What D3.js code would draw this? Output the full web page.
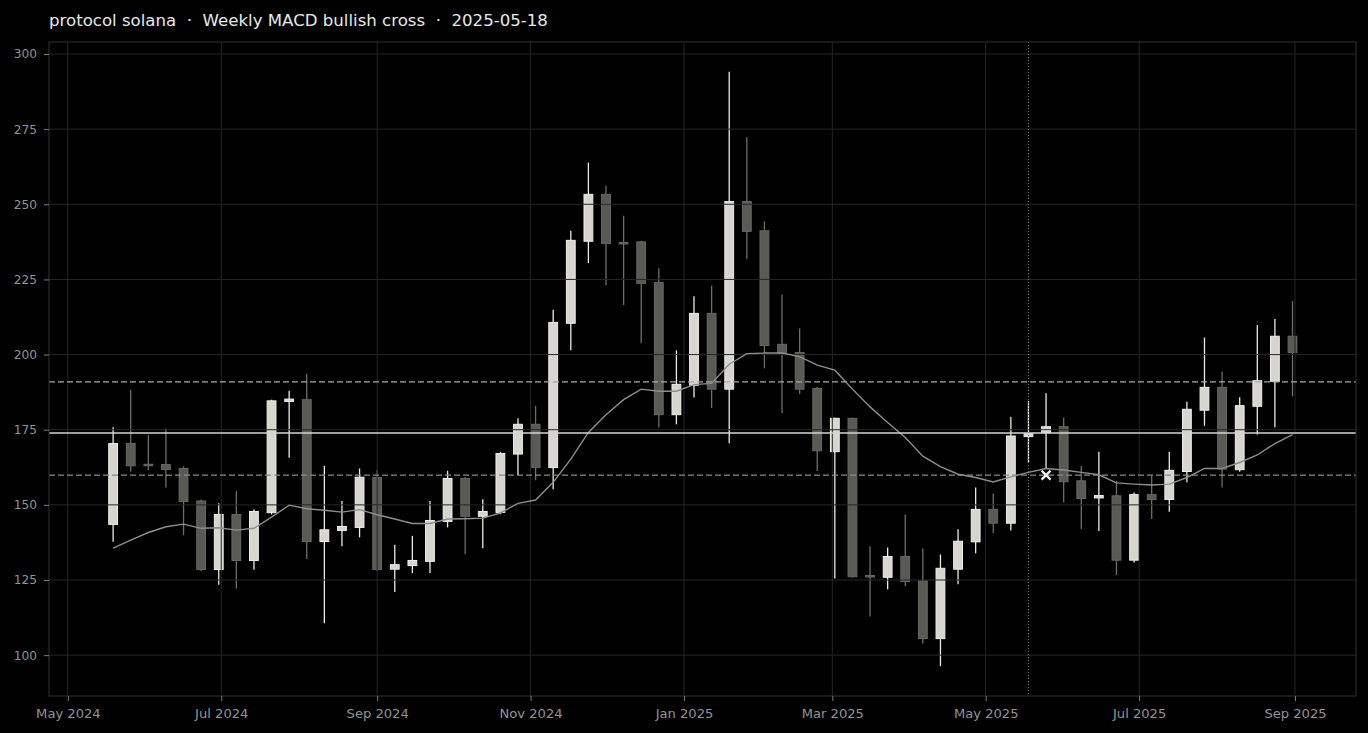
<!DOCTYPE html>
<html lang="en">
<head>
<meta charset="utf-8" />
<style>
    body { margin: 0; background: #000; }
    svg { display: block; font-family: "DejaVu Sans", sans-serif; }
    .tick text { fill: #939393; font-family: "DejaVu Sans", sans-serif; }
    .x-axis .tick text { font-size: 13.1px; }
    .y-axis .tick text { font-size: 12.2px; }
    .tick line { stroke: #7c7c7c; }
    .domain { display: none; }
    .grid line { stroke: #262626; stroke-width: 1px; }
    .title { fill: #e8e8e8; font-size: 16.6px; white-space: pre; }
</style>
</head>
<body>
<svg width="1368" height="733"></svg>
<script src="https://cdn.jsdelivr.net/npm/d3@7"></script>
<script>

    var startWeek = "2024-05-19",
        signalDate = "2025-05-18",
        markerDate = "2025-05-25",
        markerValue = 159.9;

    var open = [143.5, 170.4, 163.5, 163.4, 162.1, 151.3, 128.5, 146.8, 131.5, 147.4,
        184.4, 185, 137.8, 141.5, 142.5, 159.1, 128.6, 129.8, 131.2, 144.5,
        158.8, 146.2, 147.5, 166.9, 176.8, 162.4, 210.4, 237.7, 253.3, 237.3,
        237.5, 224, 180, 189.8, 213.7, 188.5, 250.9, 241.2, 203.4, 200.7,
        188.7, 167.7, 178.8, 126.5, 125.9, 132.8, 124.7, 105.5, 128.6, 137.7,
        148.5, 143.9, 172.7, 174, 176, 158, 152.3, 153, 131.6, 153.4,
        151.8, 161.1, 181.5, 189.1, 161.7, 182.8, 191.1, 206.1];

    var close = [170.4, 163, 163.1, 161.8, 151.1, 128.5, 146.8, 131.5, 147.8, 184.6,
        185.2, 137.8, 141.7, 142.8, 159.2, 128.5, 130.1, 131.5, 144.8, 158.8,
        146.2, 147.8, 167.1, 176.8, 162.4, 210.7, 238, 253.3, 237, 236.8,
        223.7, 180, 190.1, 213.7, 188.5, 250.9, 241, 203, 200.5, 188.5,
        168, 178.8, 126.1, 126.1, 132.8, 124.5, 105.5, 128.9, 137.9, 148.5,
        143.9, 172.9, 173.7, 176, 157.7, 152.1, 153.1, 131.6, 153.4, 151.8,
        161.5, 181.8, 189.1, 161.9, 183, 191.3, 206.1, 200.7];

    var high = [175.8, 188.3, 173.2, 175.4, 162.8, 151.8, 150.5, 154.5, 148.5, 185,
        188, 193.6, 163, 151.3, 162.1, 161.7, 136.7, 139.7, 151.3, 161.3,
        159.3, 151.9, 167.5, 178.8, 183, 214.9, 241.2, 263.9, 256.2, 246.2,
        237.8, 228.7, 201.4, 219.4, 222.9, 294.1, 272.3, 244.3, 219.9, 208.7,
        189.2, 179, 179, 136.2, 135.8, 146.8, 135.5, 133.5, 141.9, 155.8,
        153.8, 179.3, 184.6, 187.1, 179.1, 163, 167.7, 158, 154.1, 159.7,
        167.7, 184.3, 205.7, 194.4, 185.8, 209.8, 211.8, 217.8];

    var low = [137.7, 161, 161.6, 155.8, 139.9, 128, 123.4, 122.2, 128.4, 146.8,
        165.7, 132, 110.6, 136.2, 139.2, 128, 121, 127.3, 127.3, 142.5,
        133.6, 135.6, 146.9, 159.9, 158.2, 155.2, 201.4, 230.4, 223.1, 216.5,
        203.8, 175.8, 176.8, 185.7, 182.2, 170.5, 231.8, 195.4, 180.5, 186.9,
        161.3, 125.5, 125.8, 112.9, 121.9, 122.9, 103.9, 96.3, 123.6, 133.9,
        140.6, 141.5, 164.1, 161.9, 150.8, 141.9, 141.3, 126.6, 130.8, 145.3,
        147.7, 157.5, 176.3, 155.8, 161, 173.4, 175.8, 186.1];

    var ma = [135.6, 138.3, 140.8, 142.7, 143.6, 142.2, 142.4, 141.6, 142.2, 145.9,
        149.9, 148.7, 148.2, 147.6, 148.4, 146.7, 145.3, 143.8, 143.8, 145.3,
        145.4, 145.6, 147.3, 150.5, 151.6, 157.5, 165.2, 174.1, 180, 185,
        188.5, 187.8, 187.8, 190, 190.4, 196.8, 200.3, 200.5, 200.5, 199.3,
        196.5, 194.8, 188.5, 182.6, 177.4, 172.4, 166.2, 162.7, 160.2, 159.1,
        157.6, 159.3, 160.8, 162.1, 161.6, 160.8, 160, 157.3, 156.9, 156.6,
        156.9, 159.1, 162.1, 162.1, 164.1, 166.6, 170.4, 173.4];

    var levelMid = 173.9,
        levelBands = [190.9, 159.9],
        yTicks = [100, 125, 150, 175, 200, 225, 250, 275, 300];

    var parse = d3.utcParse("%Y-%m-%d"),
        start = parse(startWeek);

    var candles = open.map(function(o, i) {
        return {
            date: d3.utcDay.offset(start, 7 * i),
            open: o, close: close[i], high: high[i], low: low[i], ma: ma[i]
        };
    });

    var margin = {top: 42, right: 12, bottom: 37, left: 49},
        width = 1368 - margin.left - margin.right,
        height = 733 - margin.top - margin.bottom;

    var svg = d3.select("svg");

    svg.append("text")
        .attr("class", "title")
        .attr("x", 49)
        .attr("y", 26)
        .text("protocol solana  \u00b7  Weekly MACD bullish cross  \u00b7  2025-05-18");

    var g = svg.append("g").attr("transform", "translate(" + margin.left + "," + margin.top + ")");

    // pad the dates a bit more than 5% since the bodies have width too
    var t0 = candles[0].date, t1 = candles[candles.length - 1].date;
    var x = d3.scaleUtc()
        .domain([d3.utcHour.offset(t0, -612), d3.utcHour.offset(t1, 606)])
        .range([0, width]);

    var lo = d3.min(low), hi = d3.max(high), pad = (hi - lo) * 0.05;
    var y = d3.scaleLinear()
        .domain([lo - pad, hi + pad])
        .range([height, 0]);

    var xTicks = d3.utcMonth.every(2).range(x.domain()[0], x.domain()[1]);

    g.append("rect")
        .attr("width", width)
        .attr("height", height)
        .attr("fill", "#000");

    var weekPx = x(d3.utcDay.offset(t0, 7)) - x(t0),
        bodyW = weekPx * 0.5;

    // wicks
    g.selectAll(".wick")
        .data(candles)
        .enter()
        .append("line")
        .attr("x1", function(d) { return x(d.date); })
        .attr("x2", function(d) { return x(d.date); })
        .attr("y1", function(d) { return y(d.high); })
        .attr("y2", function(d) { return y(d.low); })
        .attr("stroke", function(d) { return d.close >= d.open ? "#ececE6" : "#6e6e69"; })
        .attr("stroke-width", 1.3);

    // bodies
    g.selectAll(".body")
        .data(candles)
        .enter()
        .append("rect")
        .attr("x", function(d) { return x(d.date) - bodyW / 2; })
        .attr("y", function(d) { return y(Math.max(d.open, d.close)); })
        .attr("width", bodyW)
        .attr("height", function(d) { return Math.max(1.5, Math.abs(y(d.open) - y(d.close))); })
        .attr("fill", function(d) { return d.close >= d.open ? "#d6d6cf" : "#5a5a55"; })
        .attr("stroke", function(d) { return d.close >= d.open ? "#efefe9" : "#686863"; })
        .attr("stroke-width", 1);

    // grid drawn over the candles
    var grid = g.append("g").attr("class", "grid");
    grid.selectAll(".gy")
        .data(yTicks)
        .enter()
        .append("line")
        .attr("x1", 0).attr("x2", width)
        .attr("y1", function(d) { return y(d); })
        .attr("y2", function(d) { return y(d); });
    grid.selectAll(".gx")
        .data(xTicks)
        .enter()
        .append("line")
        .attr("y1", 0).attr("y2", height)
        .attr("x1", function(d) { return x(d); })
        .attr("x2", function(d) { return x(d); });

    // moving average
    var line = d3.line()
        .x(function(d) { return x(d.date); })
        .y(function(d) { return y(d.ma); });

    g.append("path")
        .datum(candles)
        .attr("d", line)
        .attr("fill", "none")
        .attr("stroke", "#8e8e8e")
        .attr("stroke-width", 1.4);

    // levels
    g.append("line")
        .attr("x1", 0).attr("x2", width)
        .attr("y1", y(levelMid)).attr("y2", y(levelMid))
        .attr("stroke", "#d4d4d0")
        .attr("stroke-width", 1.5);

    g.selectAll(".band")
        .data(levelBands)
        .enter()
        .append("line")
        .attr("x1", 0).attr("x2", width)
        .attr("y1", function(d) { return y(d); })
        .attr("y2", function(d) { return y(d); })
        .attr("stroke", function(d, i) { return i === 0 ? "#a8a8a4" : "#8a8a86"; })
        .attr("stroke-width", 1.4)
        .attr("stroke-dasharray", "6,3");

    // signal date
    var sx = x(parse(signalDate));
    g.append("line")
        .attr("x1", sx).attr("x2", sx)
        .attr("y1", 0).attr("y2", height)
        .attr("stroke", "#7a7a7a")
        .attr("stroke-width", 1)
        .attr("stroke-dasharray", "1,2");

    // cross marker
    var mx = x(parse(markerDate)), my = y(markerValue), s = 4.5;
    g.append("path")
        .attr("d", "M" + (mx - s) + "," + (my - s) + "L" + (mx + s) + "," + (my + s) +
            "M" + (mx - s) + "," + (my + s) + "L" + (mx + s) + "," + (my - s))
        .attr("stroke", "#f4f4f4")
        .attr("stroke-width", 2.2);

    // frame
    g.append("rect")
        .attr("width", width)
        .attr("height", height)
        .attr("fill", "none")
        .attr("stroke", "#333")
        .attr("stroke-width", 1);

    g.append("g")
        .attr("class", "x-axis")
        .attr("transform", "translate(0," + height + ")")
        .call(d3.axisBottom(x).tickValues(xTicks).tickFormat(d3.utcFormat("%b %Y")).tickSize(5).tickPadding(8));

    g.append("g")
        .attr("class", "y-axis")
        .call(d3.axisLeft(y).tickValues(yTicks).tickSize(5).tickPadding(7));

</script>
</body>
</html>
